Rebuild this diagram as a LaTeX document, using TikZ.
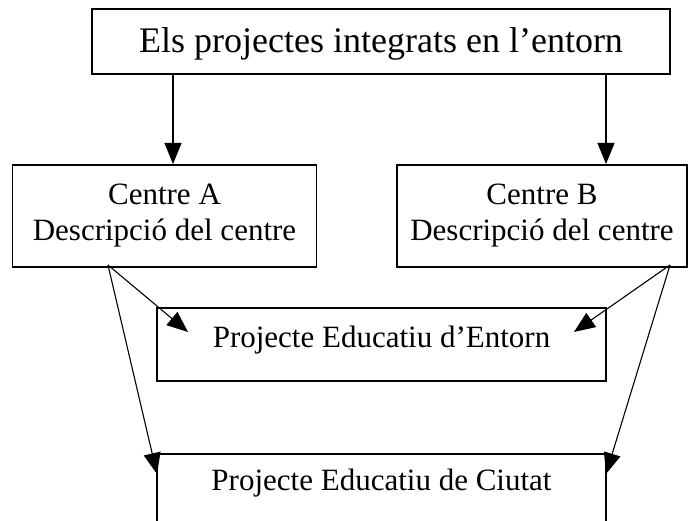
\documentclass[tikz,border=0pt]{standalone}
\usepackage{fontspec}
\setmainfont{Liberation Serif}
\usetikzlibrary{arrows.meta}
\tikzset{
  box/.style={draw, line width=1.6pt, inner sep=0pt, align=center},
  titlefont/.style={font=\fontsize{36}{40}\selectfont},
  bodyfont/.style={font=\fontsize{31}{36}\selectfont},
  arr/.style={line width=1.1pt, -{Triangle[length=21pt,width=17pt]}}
}
\begin{document}
\begin{tikzpicture}[x=1pt,y=-1pt]
\path[use as bounding box] (0,0) rectangle (690,521);
\clip (0,0) rectangle (690,521);
\node[box, titlefont, anchor=north, minimum width=578pt, text height=44pt, text depth=21pt] (title) at (381,8) {Els projectes integrats en l’entorn};
\node[box, bodyfont, anchor=north, minimum width=304pt, minimum height=102pt] (ca) at (164.5,164) {Centre A\\Descripció del centre};
\node[box, bodyfont, anchor=north, minimum width=290pt, minimum height=102pt] (cb) at (542,164) {Centre B\\Descripció del centre};
\node[box, bodyfont, anchor=north, minimum width=449pt, text height=40pt, text depth=33pt] (ent) at (381.5,307) {Projecte Educatiu d’Entorn};
\node[box, bodyfont, anchor=north, minimum width=449pt, text height=37pt, text depth=100pt] (ciu) at (381.5,453) {Projecte Educatiu de Ciutat};
\coordinate (t1) at (173,73);
\coordinate (t2) at (606,73);
\coordinate (aout) at (108,265);
\coordinate (bout) at (670,265);
\coordinate (entA) at (188,332);
\coordinate (entB) at (574,332);
\coordinate (ciuA) at (157,474);
\coordinate (ciuB) at (606,474);
\draw[arr] (t1) -- (t1 |- ca.north);
\draw[arr] (t2) -- (t2 |- cb.north);
\draw[arr] (aout) -- (entA);
\draw[arr] (aout) -- (ciuA);
\draw[arr] (bout) -- (entB);
\draw[arr] (bout) -- (ciuB);
\end{tikzpicture}
\end{document}
